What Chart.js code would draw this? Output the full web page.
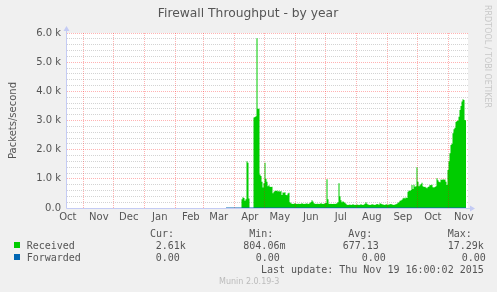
<!DOCTYPE html>
<html>
<head>
<meta charset="utf-8">
<script src="https://cdn.jsdelivr.net/npm/chart.js@4.4.0/dist/chart.umd.min.js"></script>
<style>
  html, body { margin: 0; padding: 0; background: #f0f0f0; }
  #wrap { width: 497px; height: 292px; }
</style>
</head>
<body>
<div id="wrap"><canvas id="fwChart" width="497" height="292"></canvas></div>
<script>
// x is counted in days from the left edge of the graph (Oct 15 2014 16:00)
const chartTitle = "Firewall Throughput - by year";
const yAxisTitle = "Packets/second";
const monthLabels = ["Oct", "Nov", "Dec", "Jan", "Feb", "Mar", "Apr", "May", "Jun", "Jul", "Aug", "Sep", "Oct", "Nov"];
const monthStartDays = [-14.7, 16.3, 46.3, 77.3, 108.3, 136.3, 167.3, 197.3, 228.3, 258.3, 289.3, 320.3, 350.3, 381.3];
const yTickLabels = ["0.0", "1.0 k", "2.0 k", "3.0 k", "4.0 k", "5.0 k", "6.0 k"];

// Received packets/s, one sample per day starting at receivedStartDay
const receivedStartDay = 159;
const received = [
  1, 1, 2, 1, 1, 1, 2, 1, 1, 1, 1, 2, 1, 1, 1, 2,
  300, 370, 340, 250, 300, 1600, 1550, 330,
  0, 0, 0, 0,
  3100, 3120, 3150, 5820, 3400, 3400,
  1150, 1100, 900, 700, 850, 1550, 1000, 900, 750, 780,
  730, 720, 730, 510, 560, 590, 580, 600, 570, 590,
  560, 580, 450, 530, 520, 540, 450, 440, 500, 520,
  200, 160, 150, 140, 150, 160, 150, 140, 150, 150,
  140, 150, 160, 150, 140, 150, 150, 160, 140, 150,
  170, 210, 270, 220, 160, 150, 140, 150, 150, 140,
  150, 160, 150, 140, 150, 160, 170, 990, 300, 150,
  140, 150, 140, 140, 150, 140, 150, 160, 200, 850,
  400, 270, 200, 230, 210, 170, 150, 110, 100, 110,
  120, 100, 110, 130, 110, 100, 110, 120, 110, 100,
  110, 130, 110, 100, 120, 150, 200, 150, 120, 110,
  100, 110, 130, 120, 110, 100, 120, 140, 130, 110,
  160, 150, 130, 120, 110, 100, 130, 120, 110, 120,
  130, 140, 120, 110, 100, 120, 130, 150, 180, 200,
  250, 260, 280, 330, 350, 330, 360, 340, 560, 600,
  580, 620, 790, 650, 800, 730, 750, 1400, 900, 750,
  780, 820, 870, 750, 720, 730, 700, 680, 720, 740,
  790, 780, 800, 710, 700, 720, 750, 1020, 950, 900,
  880, 980, 960, 990, 970, 980, 900, 790, 1300, 1600,
  1880, 2160, 2200, 2560, 2700, 2750, 2950, 2980, 3000, 3130,
  3360, 3500, 3650, 3730, 3700, 3020, 3000
];
// Forwarded stays at zero over the whole period it was recorded
const forwardedDays = [159, 399];
const forwarded = [0, 0];

const statHeaders = ["Cur:", "Min:", "Avg:", "Max:"];
const receivedStats = ["2.61k", "804.06m", "677.13", "17.29k"];
const forwardedStats = ["0.00", "0.00", "0.00", "0.00"];
const lastUpdate = "Last update: Thu Nov 19 16:00:02 2015";
const versionText = "Munin 2.0.19-3";
const sideText = "RRDTOOL / TOBI OETIKER";

const green = "#00cc00";
const blue = "#0066b3";
const axisColor = "#c4cbf4";
const majorGrid = "rgba(255, 0, 0, 0.3)";
const minorGrid = "rgba(128, 128, 128, 0.35)";
const textColor = "#555555";

const labelDays = monthStartDays.map(d => d + 15.5);
const yGridValues = [];
for (let v = 0; v <= 6000; v += 200) yGridValues.push(v);

const receivedPoints = received.map((v, i) => ({ x: receivedStartDay + i, y: v }));
const forwardedPoints = forwarded.map((v, i) => ({ x: forwardedDays[i], y: v }));

// background, title, axis arrows and rrdtool-style legend
const muninDecor = {
  id: "muninDecor",
  beforeDraw(chart) {
    const { ctx, chartArea: a } = chart;
    ctx.save();
    ctx.fillStyle = "#f0f0f0";
    ctx.fillRect(0, 0, chart.width, chart.height);
    ctx.fillStyle = "#ffffff";
    ctx.fillRect(a.left, a.top, a.right - a.left, a.bottom - a.top);
    ctx.restore();
  },
  afterDraw(chart) {
    const { ctx, chartArea: a } = chart;
    ctx.save();

    // axis lines with arrow heads
    const x0 = a.left - 0.5;
    const y0 = a.bottom + 0.5;
    ctx.strokeStyle = axisColor;
    ctx.fillStyle = axisColor;
    ctx.lineWidth = 1;
    ctx.beginPath();
    ctx.moveTo(x0, y0);
    ctx.lineTo(x0, a.top - 3);
    ctx.moveTo(x0, y0);
    ctx.lineTo(a.right + 3, y0);
    ctx.stroke();
    ctx.beginPath();
    ctx.moveTo(x0 - 3, a.top - 2);
    ctx.lineTo(x0 + 3, a.top - 2);
    ctx.lineTo(x0, a.top - 7);
    ctx.closePath();
    ctx.fill();
    ctx.beginPath();
    ctx.moveTo(a.right + 2, y0 - 3);
    ctx.lineTo(a.right + 2, y0 + 3);
    ctx.lineTo(a.right + 7, y0);
    ctx.closePath();
    ctx.fill();

    // title
    ctx.fillStyle = textColor;
    ctx.font = '12.3px "DejaVu Sans"';
    ctx.textAlign = "center";
    ctx.textBaseline = "alphabetic";
    ctx.fillText(chartTitle, 248, 16.5);

    // vertical watermark on the right
    ctx.save();
    ctx.translate(485, 5);
    ctx.rotate(Math.PI / 2);
    ctx.fillStyle = "#c8c8c8";
    ctx.font = '8px "DejaVu Sans"';
    ctx.textAlign = "left";
    ctx.fillText(sideText, 0, 0);
    ctx.restore();

    // legend table
    ctx.font = '10px "DejaVu Sans Mono"';
    ctx.textAlign = "left";
    ctx.fillStyle = textColor;
    const headX = [150, 249.3, 348.3, 447.7];
    statHeaders.forEach((h, i) => ctx.fillText(h, headX[i], 237));
    const recX = [155.7, 243.3, 342.7, 447.7];
    const fwdX = [155.7, 255.7, 361.7, 461.7];
    ctx.fillText("Received", 26.7, 248.5);
    receivedStats.forEach((s, i) => ctx.fillText(s, recX[i], 248.5));
    ctx.fillText("Forwarded", 26.7, 260.5);
    forwardedStats.forEach((s, i) => ctx.fillText(s, fwdX[i], 260.5));
    ctx.fillText(lastUpdate, 261, 272.5);

    ctx.fillStyle = green;
    ctx.fillRect(14, 242, 6, 6);
    ctx.fillStyle = blue;
    ctx.fillRect(14, 254, 6, 6);

    ctx.fillStyle = "#bbbbbb";
    ctx.font = '8px "DejaVu Sans"';
    ctx.fillText(versionText, 219, 284);
    ctx.restore();
  }
};

const ctx = document.getElementById("fwChart").getContext("2d");
const fwChart = new Chart(ctx, {
  type: "line",
  data: {
    datasets: [
      {
        label: "Received",
        data: receivedPoints,
        backgroundColor: green,
        borderColor: green,
        borderWidth: 0,
        fill: "origin",
        stepped: "middle",
        pointRadius: 0,
        order: 2
      },
      {
        label: "Forwarded",
        data: forwardedPoints,
        borderColor: blue,
        borderWidth: 1,
        fill: false,
        pointRadius: 0,
        order: 1
      }
    ]
  },
  options: {
    responsive: false,
    animation: false,
    events: [],
    layout: { padding: { top: 33, right: 29, bottom: 0, left: 0 } },
    plugins: {
      legend: { display: false },
      title: { display: false },
      tooltip: { enabled: false }
    },
    scales: {
      x: {
        type: "linear",
        min: 0,
        max: 401,
        afterFit(scale) { scale.height = 84; },
        afterBuildTicks(scale) {
          const t = monthStartDays.filter(d => d > 0).map(d => ({ value: d }));
          labelDays.forEach(d => t.push({ value: d }));
          scale.ticks = t;
        },
        grid: {
          z: 1,
          drawTicks: false,
          color(c) {
            return c.tick && monthStartDays.includes(c.tick.value) ? majorGrid : "rgba(0,0,0,0)";
          }
        },
        border: { display: false, dash: [1, 1] },
        ticks: {
          autoSkip: false,
          maxRotation: 0,
          minRotation: 0,
          padding: 3,
          color: textColor,
          font: { family: "DejaVu Sans", size: 10 },
          callback(value) {
            const i = labelDays.indexOf(value);
            return i >= 0 ? monthLabels[i] : "";
          }
        }
      },
      y: {
        min: 0,
        max: 6000,
        afterFit(scale) { scale.width = 67; },
        afterBuildTicks(scale) {
          scale.ticks = yGridValues.map(v => ({ value: v }));
        },
        grid: {
          drawTicks: false,
          color(c) {
            if (!c.tick) return minorGrid;
            return c.tick.value % 1000 === 0 ? majorGrid : minorGrid;
          }
        },
        border: { display: false, dash: [1, 1] },
        title: {
          display: true,
          text: yAxisTitle,
          color: textColor,
          font: { family: "DejaVu Sans", size: 10 },
          padding: { top: 7, bottom: 0 }
        },
        ticks: {
          autoSkip: false,
          padding: 6,
          color: textColor,
          font: { family: "DejaVu Sans", size: 10 },
          callback(value) {
            return value % 1000 === 0 ? yTickLabels[value / 1000] : "";
          }
        }
      }
    }
  },
  plugins: [muninDecor]
});
</script>
</body>
</html>
